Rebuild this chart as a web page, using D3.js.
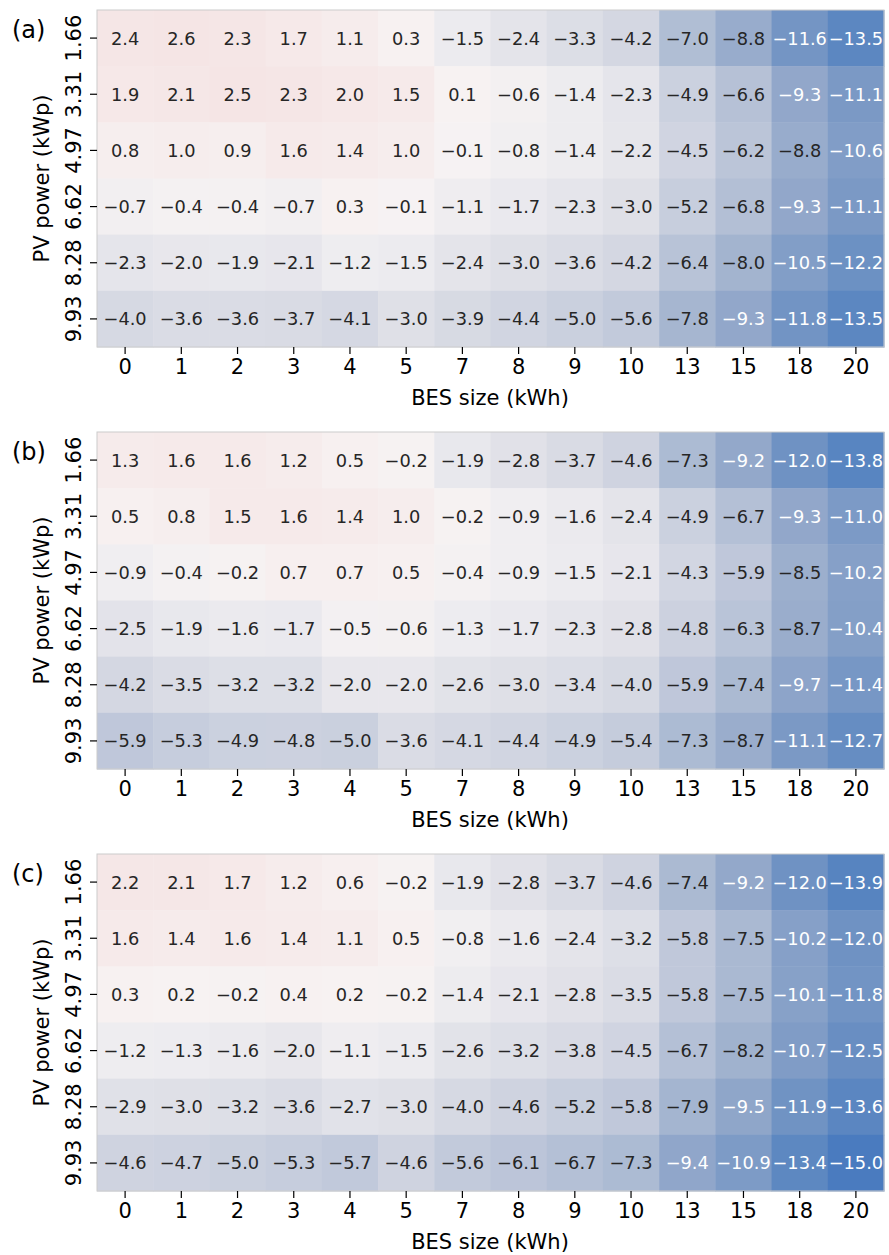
<!DOCTYPE html>
<html>
<head>
<meta charset="utf-8">
<script src="https://cdn.jsdelivr.net/npm/d3@7"></script>
<style>
  html, body { margin: 0; padding: 0; background: #fff; }
  svg { display: block; font-family: "DejaVu Sans", sans-serif; }
</style>
</head>
<body>
<svg id="chart" width="889" height="1255"></svg>
<script>
// BES sizes (columns) and PV powers (rows)
const besSizes = ["0", "1", "2", "3", "4", "5", "7", "8", "9", "10", "13", "15", "18", "20"];
const pvPowers = ["1.66", "3.31", "4.97", "6.62", "8.28", "9.93"];
const panelLabels = ["(a)", "(b)", "(c)"];

const valuesA = [
  [2.4, 2.6, 2.3, 1.7, 1.1, 0.3, -1.5, -2.4, -3.3, -4.2, -7.0, -8.8, -11.6, -13.5],
  [1.9, 2.1, 2.5, 2.3, 2.0, 1.5, 0.1, -0.6, -1.4, -2.3, -4.9, -6.6, -9.3, -11.1],
  [0.8, 1.0, 0.9, 1.6, 1.4, 1.0, -0.1, -0.8, -1.4, -2.2, -4.5, -6.2, -8.8, -10.6],
  [-0.7, -0.4, -0.4, -0.7, 0.3, -0.1, -1.1, -1.7, -2.3, -3.0, -5.2, -6.8, -9.3, -11.1],
  [-2.3, -2.0, -1.9, -2.1, -1.2, -1.5, -2.4, -3.0, -3.6, -4.2, -6.4, -8.0, -10.5, -12.2],
  [-4.0, -3.6, -3.6, -3.7, -4.1, -3.0, -3.9, -4.4, -5.0, -5.6, -7.8, -9.3, -11.8, -13.5]
];
const valuesB = [
  [1.3, 1.6, 1.6, 1.2, 0.5, -0.2, -1.9, -2.8, -3.7, -4.6, -7.3, -9.2, -12.0, -13.8],
  [0.5, 0.8, 1.5, 1.6, 1.4, 1.0, -0.2, -0.9, -1.6, -2.4, -4.9, -6.7, -9.3, -11.0],
  [-0.9, -0.4, -0.2, 0.7, 0.7, 0.5, -0.4, -0.9, -1.5, -2.1, -4.3, -5.9, -8.5, -10.2],
  [-2.5, -1.9, -1.6, -1.7, -0.5, -0.6, -1.3, -1.7, -2.3, -2.8, -4.8, -6.3, -8.7, -10.4],
  [-4.2, -3.5, -3.2, -3.2, -2.0, -2.0, -2.6, -3.0, -3.4, -4.0, -5.9, -7.4, -9.7, -11.4],
  [-5.9, -5.3, -4.9, -4.8, -5.0, -3.6, -4.1, -4.4, -4.9, -5.4, -7.3, -8.7, -11.1, -12.7]
];
const valuesC = [
  [2.2, 2.1, 1.7, 1.2, 0.6, -0.2, -1.9, -2.8, -3.7, -4.6, -7.4, -9.2, -12.0, -13.9],
  [1.6, 1.4, 1.6, 1.4, 1.1, 0.5, -0.8, -1.6, -2.4, -3.2, -5.8, -7.5, -10.2, -12.0],
  [0.3, 0.2, -0.2, 0.4, 0.2, -0.2, -1.4, -2.1, -2.8, -3.5, -5.8, -7.5, -10.1, -11.8],
  [-1.2, -1.3, -1.6, -2.0, -1.1, -1.5, -2.6, -3.2, -3.8, -4.5, -6.7, -8.2, -10.7, -12.5],
  [-2.9, -3.0, -3.2, -3.6, -2.7, -3.0, -4.0, -4.6, -5.2, -5.8, -7.9, -9.5, -11.9, -13.6],
  [-4.6, -4.7, -5.0, -5.3, -5.7, -4.6, -5.6, -6.1, -6.7, -7.3, -9.4, -10.9, -13.4, -15.0]
];
const panels = [valuesA, valuesB, valuesC];

// Diverging blue–white–red colour stops
const colorStops = [-15, -13.5, -12, -9.2, -7.4, -5.8, -4.0, -2.4, -1.5, 0, 1.5, 2.6];
const colorValues = ["#4a7bbf", "#5c87c1", "#6f92c3", "#93a8ca", "#abbad2", "#c0c8da",
                     "#d6d9e3", "#e4e4ea", "#ecebef", "#f7f3f3", "#f6eaea", "#f5e5e5"];
const color = d3.scaleLinear().domain(colorStops).range(colorValues)
  .interpolate(d3.interpolateRgb).clamp(true);

const fmt = v => d3.format(".1f")(v).replace("-", "\u2212");

const svg = d3.select("#chart");
const left = 97, width = 787, height = 337;
const panelTops = [10, 432, 854];

const x = d3.scaleBand().domain(besSizes).range([left, left + width]);

panels.forEach((vals, p) => {
  const top = panelTops[p];
  const y = d3.scaleBand().domain(pvPowers).range([top, top + height]);
  const g = svg.append("g");

  const cells = [];
  vals.forEach((row, i) => row.forEach((v, j) => cells.push({ r: pvPowers[i], c: besSizes[j], v })));

  g.selectAll("rect.cell").data(cells).join("rect")
    .attr("class", "cell")
    .attr("x", d => x(d.c))
    .attr("y", d => y(d.r))
    .attr("width", x.bandwidth() + 0.5)
    .attr("height", y.bandwidth() + 0.5)
    .attr("fill", d => color(d.v));

  g.selectAll("text.ann").data(cells).join("text")
    .attr("class", "ann")
    .attr("x", d => x(d.c) + x.bandwidth() / 2)
    .attr("y", d => y(d.r) + y.bandwidth() / 2)
    .attr("text-anchor", "middle")
    .attr("dominant-baseline", "central")
    .attr("font-size", 17.8)
    .attr("fill", d => d.v < -9 ? "#ffffff" : "#262626")
    .text(d => fmt(d.v));

  // frame around heatmap
  g.append("rect")
    .attr("x", left).attr("y", top)
    .attr("width", width).attr("height", height)
    .attr("fill", "none").attr("stroke", "#cccccc").attr("stroke-width", 1);

  // x axis
  const xAxis = g.append("g")
    .attr("transform", `translate(0,${top + height})`)
    .call(d3.axisBottom(x).tickSize(7).tickPadding(5));
  xAxis.select(".domain").remove();
  xAxis.selectAll("line").attr("stroke", "#000").attr("stroke-width", 1.2);
  xAxis.selectAll("text").attr("font-size", 21).attr("fill", "#000")
    .attr("font-family", "DejaVu Sans, sans-serif");

  // y axis with rotated tick labels
  const yAxis = g.append("g")
    .attr("transform", `translate(${left},0)`)
    .call(d3.axisLeft(y).tickSize(7).tickPadding(6));
  yAxis.select(".domain").remove();
  yAxis.selectAll("line").attr("stroke", "#000").attr("stroke-width", 1.2);
  yAxis.selectAll("text")
    .attr("font-size", 21).attr("fill", "#000")
    .attr("font-family", "DejaVu Sans, sans-serif")
    .attr("x", null).attr("dy", null)
    .attr("text-anchor", "middle")
    .attr("dominant-baseline", "central")
    .attr("transform", "translate(-23.5,0) rotate(-90)");

  // axis titles
  g.append("text")
    .attr("x", left + width / 2 - 0.5).attr("y", top + height + 58)
    .attr("text-anchor", "middle").attr("font-size", 21).attr("fill", "#000")
    .text("BES size (kWh)");
  g.append("text")
    .attr("transform", `translate(49,${top + height / 2}) rotate(-90)`)
    .attr("text-anchor", "middle").attr("font-size", 21).attr("fill", "#000")
    .text("PV power (kWp)");

  // panel label
  g.append("text")
    .attr("x", 12).attr("y", top + 28)
    .attr("font-size", 24).attr("fill", "#000")
    .text(panelLabels[p]);
});
</script>
</body>
</html>
